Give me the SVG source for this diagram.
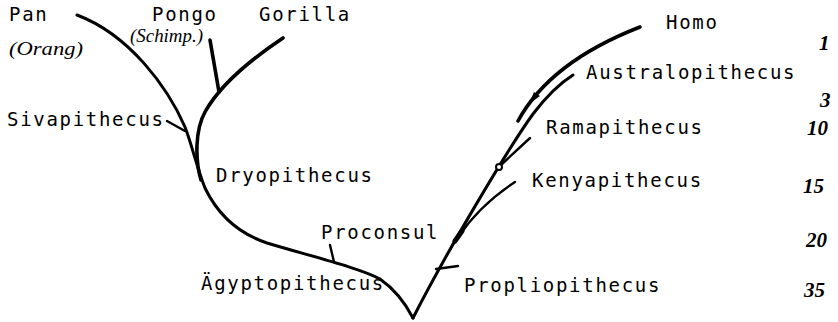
<svg xmlns="http://www.w3.org/2000/svg" width="838" height="322" viewBox="0 0 838 322">
<style>
  .t { font-family: "DejaVu Sans Mono", "Liberation Mono", monospace; font-size: 19px; letter-spacing: 1.7px; fill: #000; }
  .h { font-family: "Liberation Serif", "DejaVu Serif", serif; font-style: italic; font-size: 18px; fill: #000; }
  .n { font-family: "Liberation Serif", "DejaVu Serif", serif; font-style: italic; font-size: 21px; font-weight: bold; fill: #000; }
  .br { fill: none; stroke: #000; stroke-width: 3; stroke-linecap: round; stroke-linejoin: round; }
  .thk { stroke-width: 3.6; }
  .thin { stroke-width: 2.4; }
</style>
<rect width="838" height="322" fill="#fff"/>
<g id="connectors">
  <path class="br" d="M413,318 Q400,293 380,279 C360,268 310,256 267,243 C240,234 218,215 205,188 C196,165 192,145 185,127 C168,88 130,35 77,15"/>
  <path class="br thk" d="M201,180 C195,160 195,130 205,112 C220,85 250,60 283,38"/>
  <path class="br thk" d="M219,92 L210,40"/>
  <path class="br thin" d="M167,121 L185,131"/>
  <path class="br thin" d="M330,245 L334,262"/>
  <path class="br" d="M413,318 C445,255 507,150 533,114 C546,97 557,85 573,75"/>
  <path class="br thk" d="M518,121 Q550,62 640,27"/>
  <polygon points="529,104 534,92 540,96" fill="#000"/>
  <path class="br thin" d="M501,165 L530,138"/>
  <circle cx="499" cy="167" r="3" fill="#fff" stroke="#000" stroke-width="2"/>
  <path class="br thin" d="M459,236 Q480,205 515,182"/>
  <path class="br" style="stroke-width:5" d="M455,241 L462,231"/>
  <path class="br thin" d="M436,269 L458,266"/>
</g>
<g id="pan"><text class="t" x="9" y="21">Pan</text><text class="h" x="9" y="55" textLength="74" lengthAdjust="spacingAndGlyphs">(Orang)</text></g>
<g id="pongo"><text class="t" x="152" y="21">Pongo</text><text class="h" x="130" y="42" textLength="73" lengthAdjust="spacingAndGlyphs" font-size="16">(Schimp.)</text></g>
<g id="gorilla"><text class="t" x="259" y="21">Gorilla</text></g>
<g id="sivapithecus"><text class="t" x="7" y="126">Sivapithecus</text></g>
<g id="dryopithecus"><text class="t" x="216" y="182">Dryopithecus</text></g>
<g id="proconsul"><text class="t" x="321" y="239">Proconsul</text></g>
<g id="aegyptopithecus"><text class="t" x="201" y="290">Ägyptopithecus</text></g>
<g id="homo"><text class="t" x="666" y="29">Homo</text></g>
<g id="australopithecus"><text class="t" x="586" y="79">Australopithecus</text></g>
<g id="ramapithecus"><text class="t" x="546" y="134">Ramapithecus</text></g>
<g id="kenyapithecus"><text class="t" x="532" y="187">Kenyapithecus</text></g>
<g id="propliopithecus"><text class="t" x="464" y="292">Propliopithecus</text></g>
<g id="scale">
  <text class="n" x="819" y="50">1</text>
  <text class="n" x="820" y="107">3</text>
  <text class="n" x="807" y="135">10</text>
  <text class="n" x="803" y="193">15</text>
  <text class="n" x="806" y="247">20</text>
  <text class="n" x="804" y="297">35</text>
</g>
</svg>
